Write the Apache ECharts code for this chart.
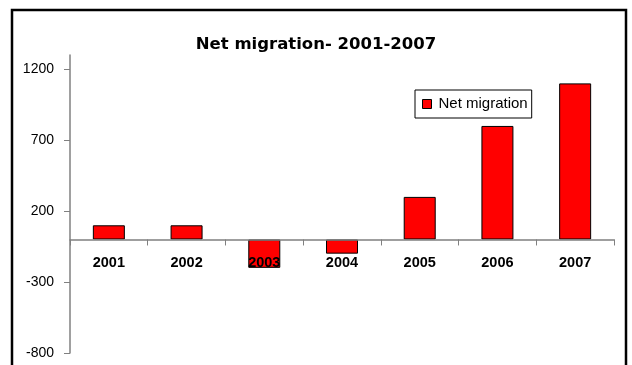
<!DOCTYPE html>
<html><head><meta charset="utf-8">
<script src="https://cdn.jsdelivr.net/npm/echarts@6/dist/echarts.min.js"></script>
<style>html,body{margin:0;padding:0;background:#fff}#c{width:632px;height:365px}</style>
</head><body><div id="c"></div>
<script>
const categories = ['2001','2002','2003','2004','2005','2006','2007'];
const netMigration = [100, 100, -200, -100, 300, 800, 1100];
const yTicks = [-800, -300, 200, 700, 1200];
const yMin = -800, yMax = 1300;
const seriesName = 'Net migration';
const chartTitle = 'Net migration- 2001-2007';

const chart = echarts.init(document.getElementById('c'), null, {renderer:'canvas'});
const option = {
  animation:false,
  backgroundColor:'#fff',
  graphic:[{type:'rect', shape:{x:12, y:10, width:614, height:400}, style:{fill:'none', stroke:'#000', lineWidth:2.5}}],
  title:{text:chartTitle, left:'center', top:31, textStyle:{fontFamily:'DejaVu Sans', fontSize:16.5, fontWeight:'bold', color:'#000'}},
  legend:{data:[seriesName], left:415, top:90, orient:'vertical', borderColor:'#000', borderWidth:1, padding:[6,4,6,7], itemWidth:9, itemHeight:9, itemGap:0,
    icon:'rect', itemStyle:{borderColor:'#000', borderWidth:1},
    textStyle:{fontFamily:'Liberation Sans, Arial', fontSize:15, lineHeight:16, color:'#000', padding:[0,0,0,2]}},
  grid:{left:70, right:18, top:55, bottom:12, outerBoundsMode:'none', containLabel:false},
  xAxis:{type:'category', data:categories, boundaryGap:true, position:'bottom', offset:0,
    axisLine:{onZero:false, lineStyle:{color:'#808080', width:1.5}},
    axisTick:{show:true, alignWithLabel:false, inside:false, length:6, lineStyle:{color:'#808080'}},
    axisLabel:{margin:16, fontFamily:'Liberation Sans, Arial', fontSize:14.5, fontWeight:'bold', color:'#000'},
    z:10},
  yAxis:{type:'value', min:yMin, max:yMax, splitLine:{show:false},
    axisLine:{show:true, lineStyle:{color:'#808080', width:1.5}},
    axisTick:{show:true, length:6, customValues:yTicks, lineStyle:{color:'#808080'}},
    axisLabel:{customValues:yTicks, margin:16, formatter:v=>String(v), fontFamily:'Liberation Sans, Arial', fontSize:14, color:'#000'}},
  series:[{name:seriesName, type:'bar', data:netMigration, barWidth:32,
    itemStyle:{color:'#ff0000', borderColor:'#000', borderWidth:1}, z:2}]
};
chart.setOption(option);
// move the category axis up to the zero line, using the value axis' own scale
const yZero = chart.convertToPixel({yAxisIndex:0}, 0);
const yBottom = chart.convertToPixel({yAxisIndex:0}, yMin);
chart.setOption({xAxis:{offset: yZero - yBottom}});
</script></body></html>
